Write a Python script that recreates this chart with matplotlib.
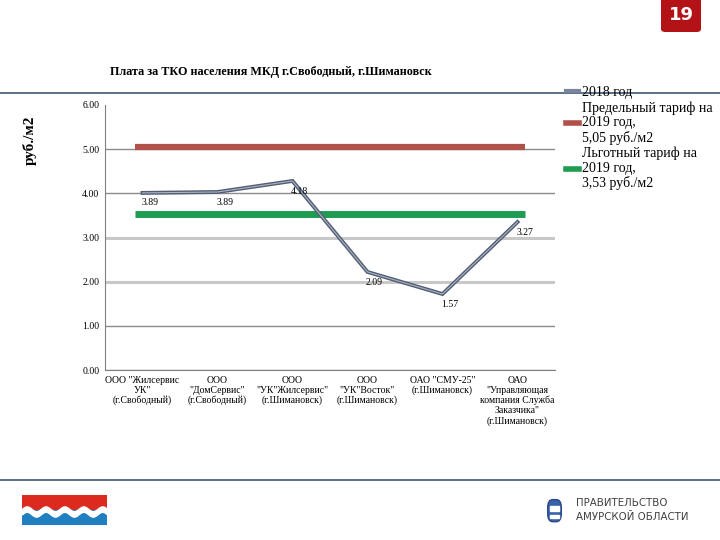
import numpy as np
import matplotlib
matplotlib.use("Agg")
import matplotlib.pyplot as plt
from matplotlib.patches import Rectangle, FancyBboxPatch
from matplotlib.lines import Line2D

categories = [
    'ООО "Жилсервис\nУК"\n(г.Свободный)',
    'ООО\n"ДомСервис"\n(г.Свободный)',
    'ООО\n"УК"Жилсервис"\n(г.Шимановск)',
    'ООО\n"УК"Восток"\n(г.Шимановск)',
    'ОАО "СМУ-25"\n(г.Шимановск)',
    'ОАО\n"Управляющая\nкомпания Служба\nЗаказчика"\n(г.Шимановск)',
]
values_2018 = [4.01, 4.03, 4.28, 2.22, 1.72, 3.35]
labels_2018 = ["3.89", "3.89", "4.18", "2.09", "1.57", "3.27"]
limit_2019 = 5.05
benefit_2019 = 3.53
yticks = [0, 1, 2, 3, 4, 5, 6]

serif = ["Liberation Serif", "DejaVu Serif"]
W, H = 720, 540
fig = plt.figure(figsize=(7.2, 5.4), dpi=100)

def fx(px):
    return px / W

def fy(py):
    return 1 - py / H

# header / footer lines
fig.add_artist(Line2D([0, 1], [fy(93), fy(93)], color="#3d5873", lw=1.2))
fig.add_artist(Line2D([0, 1], [fy(480), fy(480)], color="#3d5873", lw=1.2))

# badge
badge = FancyBboxPatch((fx(661), fy(32)), fx(40), fy(0) - fy(32) + 0.01,
                       boxstyle="round,pad=0,rounding_size=0.006",
                       transform=fig.transFigure, facecolor="#b31217",
                       edgecolor="none")
fig.add_artist(badge)
fig.text(fx(681), fy(15), "19", color="white", fontsize=13, fontweight="bold",
         ha="center", va="center", family="DejaVu Sans")

# title
fig.text(fx(110), fy(72), "Плата за ТКО населения МКД г.Свободный, г.Шимановск",
         fontsize=8.7, fontweight="bold", family=serif, ha="left", va="center")
fig.text(fx(30), fy(140), "руб./м2", rotation=90, fontsize=11, fontweight="bold",
         family=serif, ha="center", va="center")

ax = fig.add_axes([fx(105), fy(370), fx(555) - fx(105), fy(105) - fy(370)])
x = np.arange(len(categories))
ax.set_xlim(-0.5, len(categories) - 0.5)
ax.set_ylim(0, 6)
ax.set_yticks(yticks)
ax.set_yticklabels([f"{v:.2f}" for v in yticks], family=serif, fontsize=7)
ax.set_xticks(x)
ax.set_xticklabels(categories, family=serif, fontsize=7, linespacing=1.15)
ax.tick_params(axis="both", length=0, pad=4)
for s in ["top", "right"]:
    ax.spines[s].set_visible(False)
ax.spines["left"].set_color("#808080")
ax.spines["bottom"].set_color("#808080")
ax.yaxis.grid(True, color="#8c8c8c", lw=1.0)
ax.set_axisbelow(True)
for v, gl in zip(yticks, ax.get_ygridlines()):
    if v in (2, 3):
        gl.set_color("#c8c8c8")
        gl.set_linewidth(2.2)
    if v == 6:
        gl.set_visible(False)

ax.hlines(limit_2019, -0.1, len(categories) - 0.9, color="#b0504a", lw=4.5,
          zorder=3)
ax.hlines(benefit_2019, -0.1, len(categories) - 0.9, color="#1f9c52", lw=5,
          zorder=3)
ax.plot(x, values_2018, color="#545e73", lw=2.8, zorder=4,
        solid_joinstyle="miter")
ax.plot(x, values_2018, color="#a9b3c6", lw=0.8, zorder=5)
for xi, v, lab in zip(x, values_2018, labels_2018):
    ax.annotate(lab, (xi, v), xytext=(-1, -4), textcoords="offset points",
                ha="left", va="top", fontsize=7, family=serif, zorder=6)

handles = [
    Line2D([], [], color="#7a849a", lw=3),
    Line2D([], [], color="#b0504a", lw=4),
    Line2D([], [], color="#1f9c52", lw=4),
]
leg_labels = ["2018 год",
              "Предельный тариф на\n2019 год,\n5,05 руб./м2",
              "Льготный тариф на\n2019 год,\n3,53 руб./м2"]
leg = fig.legend(handles, leg_labels, loc="upper left",
                 bbox_to_anchor=(fx(566), fy(86)), frameon=False,
                 prop={"family": serif, "size": 10}, handlelength=0.9,
                 handletextpad=0.25, labelspacing=0.15, borderaxespad=0,
                 borderpad=0)
for t in leg.get_texts():
    t.set_linespacing(1.15)

# flag
fax = fig.add_axes([fx(22), fy(525), fx(107) - fx(22), fy(495) - fy(525)])
fax.set_xlim(0, 1)
fax.set_ylim(0, 1)
fax.axis("off")
fax.add_patch(Rectangle((0, 0.5), 1, 0.5, color="#dc2a1f"))
fax.add_patch(Rectangle((0, 0), 1, 0.5, color="#1f7fc0"))
tt = np.linspace(0, 1, 200)
wave = 0.45 + 0.08 * np.sin(tt * 2 * np.pi * 4.5)
fax.fill_between(tt, wave - 0.09, wave + 0.09, color="white")

# emblem
eax = fig.add_axes([fx(546), fy(523), fx(563) - fx(546), fy(497) - fy(523)])
eax.set_xlim(0, 1)
eax.set_ylim(0, 1)
eax.axis("off")
eax.add_patch(FancyBboxPatch((0.1, 0.05), 0.8, 0.85,
                             boxstyle="round,pad=0,rounding_size=0.3",
                             facecolor="#3a62a8", edgecolor="#2a4a88"))
eax.add_patch(Rectangle((0.25, 0.45), 0.5, 0.2, color="white"))
eax.add_patch(Rectangle((0.25, 0.2), 0.5, 0.12, color="white"))
fig.text(fx(576), fy(503), "ПРАВИТЕЛЬСТВО", fontsize=8.2, color="#404040",
         family="DejaVu Sans", fontstretch="condensed", va="center", ha="left")
fig.text(fx(576), fy(517), "АМУРСКОЙ ОБЛАСТИ", fontsize=8.2, color="#404040",
         family="DejaVu Sans", fontstretch="condensed", va="center", ha="left")

fig.savefig("out.png", dpi=100)
